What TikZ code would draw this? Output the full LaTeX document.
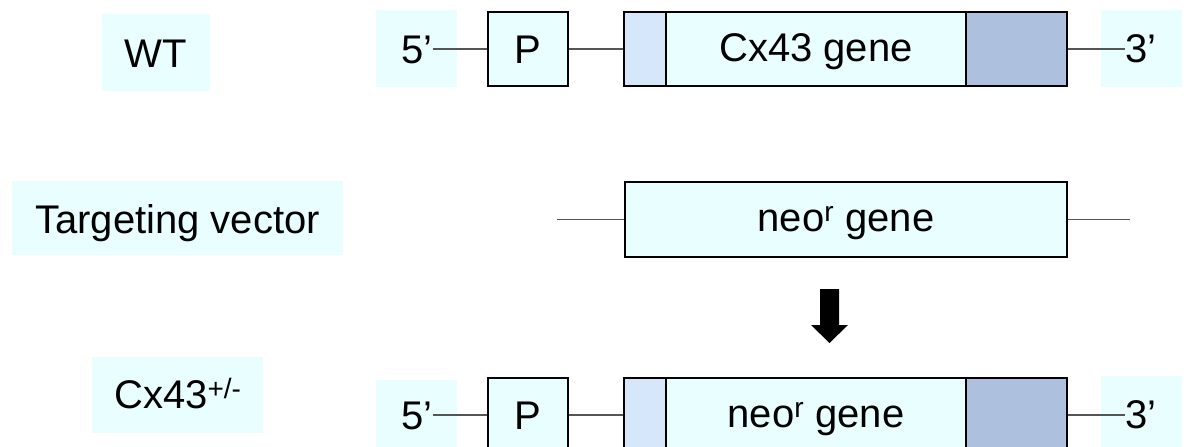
\documentclass[tikz,border=0pt]{standalone}
\usepackage{fontspec}
\setmainfont{Liberation Sans}
\definecolor{bgcyan}{HTML}{E9FFFF}
\definecolor{segl}{HTML}{D6E6FB}
\definecolor{segd}{HTML}{ADC1DF}
\definecolor{conncol}{HTML}{555555}
\begin{document}
\begin{tikzpicture}[x=1pt,y=-1pt,
  lbl/.style={fill=bgcyan, inner sep=0},
  txt/.style={inner sep=0, anchor=base, font=\fontsize{40}{47}\selectfont},
  seg/.style={draw=black, line width=2.2pt, inner sep=0, minimum height=74pt},
  conn/.style={draw=conncol, line width=1.5pt},
]
\useasboundingbox (0,0) rectangle (1187,447);
\clip (0,0) rectangle (1187,447);

% ---------- Row 1: WT ----------
\node[lbl, minimum width=108pt, minimum height=77pt] (wtbox) at (156,52.5) {};
\node[txt] (wt) at (156,67) {WT};
\node[lbl, minimum width=81pt, minimum height=77pt] (l5a) at (416.5,48.5) {};
\node[txt, anchor=base west] (t5a) at (401,63) {5’};
\node[seg, fill=bgcyan, minimum width=80pt] (pa) at (528,49) {};
\node[txt] (pat) at (528,63) {P};
\node[seg, fill=segl, minimum width=42pt] (ga1) at (645,49) {};
\node[seg, fill=bgcyan, minimum width=300pt] (ga2) at (816,49) {};
\node[seg, fill=segd, minimum width=101pt] (ga3) at (1016.5,49) {};
\node[txt] (gat) at (816,61) {Cx43 gene};
\node[lbl, minimum width=81pt, minimum height=77pt] (l3a) at (1141.5,48.5) {};
\node[txt, anchor=base west] (t3a) at (1125,62) {3’};
\draw[conn] (t5a.east |- pa.west) -- (pa.west);
\draw[conn] (pa.east) -- (ga1.west);
\draw[conn] (ga3.east) -- (t3a.west |- ga3.east);

% ---------- Row 2: Targeting vector ----------
\node[lbl, minimum width=331pt, minimum height=74pt] (tvbox) at (177.5,218) {};
\node[txt] (tv) at (177.5,233) {Targeting vector};
\node[seg, fill=bgcyan, minimum width=442pt, minimum height=75pt] (neo) at (846,219.5) {};
\node[txt] (neot) at (846,231) {neo\textsuperscript{r} gene};
\coordinate (vl) at (557,219.5);
\coordinate (vr) at (1130,219.5);
\draw[conn] (vl) -- (neo.west);
\draw[conn] (neo.east) -- (vr);

% ---------- Block arrow ----------
\fill[black] (820,289) -- (839,289) -- (839,325) -- (848,325) -- (829.5,343) -- (811,325) -- (820,325) -- cycle;

% ---------- Row 3: Cx43+/- ----------
\node[lbl, minimum width=171pt, minimum height=76pt] (cxbox) at (177.5,395) {};
\node[txt, anchor=base west] (cx) at (114,408) {Cx43\textsuperscript{+/-}};
\node[lbl, minimum width=81pt, minimum height=77pt] (l5b) at (416.5,418.5) {};
\node[txt, anchor=base west] (t5b) at (401,429) {5’};
\node[seg, fill=bgcyan, minimum width=80pt] (pb) at (528,415) {};
\node[txt] (pbt) at (528,429) {P};
\node[seg, fill=segl, minimum width=42pt] (gb1) at (645,415) {};
\node[seg, fill=bgcyan, minimum width=300pt] (gb2) at (816,415) {};
\node[seg, fill=segd, minimum width=101pt] (gb3) at (1016.5,415) {};
\node[txt] (gbt) at (816,427) {neo\textsuperscript{r} gene};
\node[lbl, minimum width=81pt, minimum height=77pt] (l3b) at (1141.5,414.5) {};
\node[txt, anchor=base west] (t3b) at (1125,428) {3’};
\draw[conn] (t5b.east |- pb.west) -- (pb.west);
\draw[conn] (pb.east) -- (gb1.west);
\draw[conn] (gb3.east) -- (t3b.west |- gb3.east);
\end{tikzpicture}
\end{document}
